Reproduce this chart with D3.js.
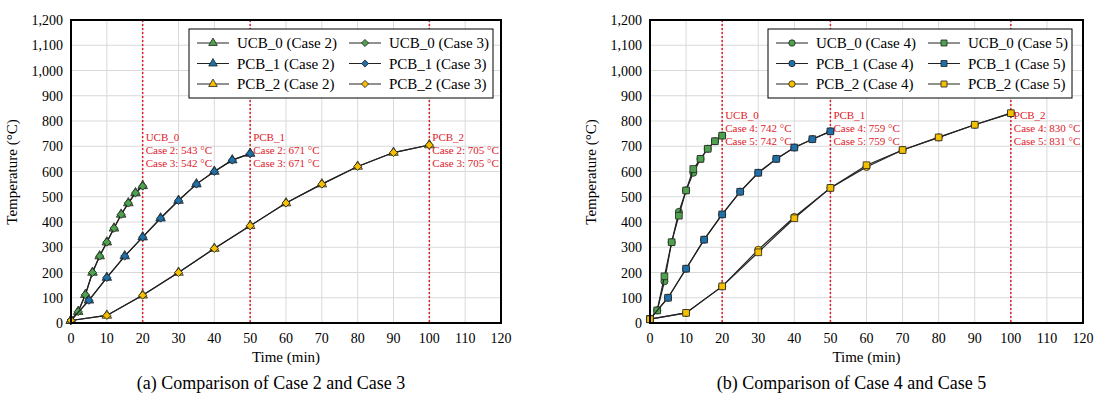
<!DOCTYPE html>
<html><head><meta charset="utf-8">
<script src="https://cdn.jsdelivr.net/npm/d3@7"></script>
<style>body{margin:0;background:#fff} svg text{font-family:"Liberation Serif","DejaVu Serif",serif}</style>
</head><body><svg id="c" width="1116" height="409" font-family="Liberation Serif, DejaVu Serif, serif"></svg>
<script>
// time steps per member
var tUCB = [0, 2, 4, 6, 8, 10, 12, 14, 16, 18, 20]
var tPCB1 = [0, 5, 10, 15, 20, 25, 30, 35, 40, 45, 50]
var tPCB2 = [0, 10, 20, 30, 40, 50, 60, 70, 80, 90, 100]

var ucb_c2 = [10, 45, 112, 200, 265, 320, 375, 430, 475, 515, 543]
var ucb_c3 = [10, 45, 112, 200, 265, 320, 375, 430, 475, 515, 542]
var pcb1_c2 = [10, 90, 180, 265, 340, 415, 485, 550, 600, 645, 671]
var pcb1_c3 = [10, 90, 180, 265, 340, 415, 485, 550, 600, 645, 671]
var pcb2_c2 = [10, 30, 110, 200, 295, 385, 475, 550, 620, 675, 705]
var pcb2_c3 = [10, 30, 110, 200, 295, 385, 475, 550, 620, 675, 705]

var ucb_c4 = [15, 50, 165, 320, 440, 525, 595, 650, 690, 720, 742]
var ucb_c5 = [15, 50, 185, 320, 425, 525, 610, 650, 690, 720, 742]
var pcb1_c4 = [15, 100, 215, 330, 430, 520, 595, 650, 695, 728, 759]
var pcb1_c5 = [15, 100, 215, 330, 430, 520, 595, 650, 695, 728, 759]
var pcb2_c4 = [15, 40, 145, 290, 420, 535, 618, 685, 735, 785, 830]
var pcb2_c5 = [15, 40, 145, 280, 415, 535, 625, 685, 735, 785, 831]

var xTicks = [0, 10, 20, 30, 40, 50, 60, 70, 80, 90, 100, 110, 120]
var yTicks = [0, 100, 200, 300, 400, 500, 600, 700, 800, 900, 1000, 1100, 1200]
var cutTimes = [20, 50, 100]

var green = '#4ea24e', blue = '#1f6fa8', yellow = '#f5c000'
var svg = d3.select('#c')
var red = '#e0202a'

function drawPanel(cfg){
    var x = d3.scaleLinear().domain([0, 120]).range([cfg.left, cfg.right])
    var y = d3.scaleLinear().domain([0, 1200]).range([323, 20])
    var g = svg.append('g')

    // grid
    g.selectAll('.gx').data(xTicks).enter().append('line')
        .attr('x1', d => x(d)).attr('x2', d => x(d)).attr('y1', 20).attr('y2', 323)
        .attr('stroke', '#d9d9d9')
    g.selectAll('.gy').data(yTicks).enter().append('line')
        .attr('y1', d => y(d)).attr('y2', d => y(d)).attr('x1', cfg.left).attr('x2', cfg.right)
        .attr('stroke', '#d9d9d9')

    g.selectAll('.tx').data(xTicks).enter().append('text')
        .attr('x', d => x(d)).attr('y', 343).attr('text-anchor', 'middle')
        .attr('font-size', 14).text(d => d)
    g.selectAll('.ty').data(yTicks).enter().append('text')
        .attr('x', cfg.left - 8).attr('y', d => y(d) + 5).attr('text-anchor', 'end')
        .attr('font-size', 14).text(d => d3.format(',')(d))

    g.append('text').attr('x', (cfg.left + cfg.right) / 2).attr('y', 362)
        .attr('text-anchor', 'middle').attr('font-size', 15).text('Time (min)')
    g.append('text').attr('transform', 'translate(' + (cfg.left - 54) + ',172) rotate(-90)')
        .attr('text-anchor', 'middle').attr('font-size', 15).text('Temperature (°C)')
    g.append('text').attr('x', (cfg.left + cfg.right) / 2 - 15).attr('y', 389)
        .attr('text-anchor', 'middle').attr('font-size', 18).text(cfg.caption)

    // red dotted cut-off lines and notes
    cutTimes.forEach(function(t, i){
        g.append('line').attr('x1', x(t)).attr('x2', x(t)).attr('y1', 20).attr('y2', 323)
            .attr('stroke', red).attr('stroke-width', 1.5).attr('stroke-dasharray', '2,2')
        cfg.notes[i].forEach(function(s, j){
            g.append('text').attr('x', x(t) + 3).attr('y', cfg.noteY + j * 13)
                .attr('fill', red).attr('font-size', 11).text(s)
        })
    })

    var line = d3.line().x(d => x(d[0])).y(d => y(d[1]))
    cfg.series.forEach(function(s){
        var pts = s.t.map((t, i) => [t, s.v[i]])
        g.append('path').datum(pts).attr('d', line).attr('fill', 'none')
            .attr('stroke', '#222').attr('stroke-width', 1.2)
        g.selectAll(null).data(pts).enter().append('path')
            .attr('transform', d => 'translate(' + x(d[0]) + ',' + y(d[1]) + ') rotate(' + (s.rot || 0) + ')')
            .attr('d', d3.symbol().type(s.shape).size(s.size)())
            .attr('fill', s.color).attr('stroke', '#222').attr('stroke-width', 0.8)
    })

    g.append('rect').attr('x', cfg.left).attr('y', 20).attr('width', cfg.right - cfg.left)
        .attr('height', 303).attr('fill', 'none').attr('stroke', '#000').attr('stroke-width', 2)

    // legend
    var lx = cfg.left + 118, ly = 29
    g.append('rect').attr('x', lx).attr('y', ly).attr('width', 304).attr('height', 69)
        .attr('fill', '#fff').attr('stroke', '#000')
    cfg.series.forEach(function(s, i){
        var col = i < 3 ? 0 : 1, row = i % 3
        var sx = lx + 8 + col * 152, sy = ly + 14 + row * 20.5
        g.append('line').attr('x1', sx).attr('x2', sx + 32).attr('y1', sy).attr('y2', sy).attr('stroke', '#222')
        g.append('path').attr('transform', 'translate(' + (sx + 16) + ',' + sy + ') rotate(' + (s.rot || 0) + ')')
            .attr('d', d3.symbol().type(s.shape).size(s.size * 0.8)())
            .attr('fill', s.color).attr('stroke', '#222').attr('stroke-width', 0.8)
        g.append('text').attr('x', sx + 40).attr('y', sy + 5).attr('font-size', 15).text(s.name)
    })
}

drawPanel({
    left: 71, right: 501, caption: '(a) Comparison of Case 2 and Case 3', noteY: 141,
    notes: [['UCB_0', 'Case 2: 543 °C', 'Case 3: 542 °C'], ['PCB_1', 'Case 2: 671 °C', 'Case 3: 671 °C'], ['PCB_2', 'Case 2: 705 °C', 'Case 3: 705 °C']],
    series: [
        {name: 'UCB_0 (Case 2)', t: tUCB, v: ucb_c2, color: green, shape: d3.symbolTriangle, size: 40},
        {name: 'PCB_1 (Case 2)', t: tPCB1, v: pcb1_c2, color: blue, shape: d3.symbolTriangle, size: 40},
        {name: 'PCB_2 (Case 2)', t: tPCB2, v: pcb2_c2, color: yellow, shape: d3.symbolTriangle, size: 40},
        {name: 'UCB_0 (Case 3)', t: tUCB, v: ucb_c3, color: green, shape: d3.symbolSquare, size: 32, rot: 45},
        {name: 'PCB_1 (Case 3)', t: tPCB1, v: pcb1_c3, color: blue, shape: d3.symbolSquare, size: 32, rot: 45},
        {name: 'PCB_2 (Case 3)', t: tPCB2, v: pcb2_c3, color: yellow, shape: d3.symbolSquare, size: 32, rot: 45}
    ]
})

drawPanel({
    left: 650, right: 1083, caption: '(b) Comparison of Case 4 and Case 5', noteY: 119,
    notes: [['UCB_0', 'Case 4: 742 °C', 'Case 5: 742 °C'], ['PCB_1', 'Case 4: 759 °C', 'Case 5: 759 °C'], ['PCB_2', 'Case 4: 830 °C', 'Case 5: 831 °C']],
    series: [
        {name: 'UCB_0 (Case 4)', t: tUCB, v: ucb_c4, color: green, shape: d3.symbolCircle, size: 40},
        {name: 'PCB_1 (Case 4)', t: tPCB1, v: pcb1_c4, color: blue, shape: d3.symbolCircle, size: 40},
        {name: 'PCB_2 (Case 4)', t: tPCB2, v: pcb2_c4, color: yellow, shape: d3.symbolCircle, size: 40},
        {name: 'UCB_0 (Case 5)', t: tUCB, v: ucb_c5, color: green, shape: d3.symbolSquare, size: 45},
        {name: 'PCB_1 (Case 5)', t: tPCB1, v: pcb1_c5, color: blue, shape: d3.symbolSquare, size: 45},
        {name: 'PCB_2 (Case 5)', t: tPCB2, v: pcb2_c5, color: yellow, shape: d3.symbolSquare, size: 45}
    ]
})
</script></body></html>
